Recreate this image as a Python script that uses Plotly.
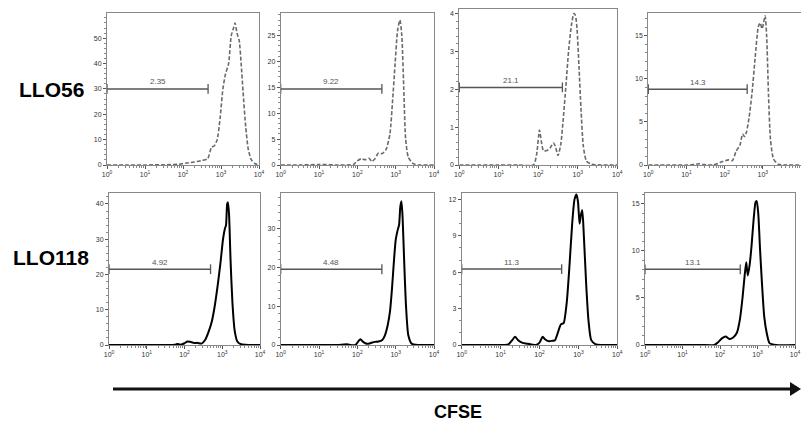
import plotly.graph_objects as go

# ---------------- data ----------------
# x positions in log10(CFSE) units, y = event counts
P1_LX = [0,0.5,1.0,1.5,1.9,2.1,2.3,2.5,2.65,2.75,2.82,2.9,2.98,3.05,3.12,3.2,3.27,3.33,3.37,3.42,3.48,3.53,3.58,3.65,3.72,3.8,3.9,4.0]
P1_Y  = [0,0,0,0.1,0.3,0.8,1.2,1.8,2.5,7,7.5,10,19,30,36,40,51,54,56,52,49,40,29,15,6,2,0.5,0]

P2_LX = [0,0.5,1.0,1.5,1.9,2.0,2.1,2.2,2.3,2.38,2.46,2.55,2.65,2.75,2.85,2.92,2.98,3.05,3.11,3.16,3.21,3.26,3.33,3.45,3.6,4.0]
P2_Y  = [0,0,0.1,0,0.1,0.8,1.2,1.0,1.3,0.7,1.2,2.3,2.2,3.0,6,12.5,19,26,28,25,15,5,1.5,0.3,0,0]

P3_LX = [0,0.5,1.0,1.5,1.88,1.96,2.03,2.08,2.13,2.22,2.3,2.38,2.43,2.5,2.57,2.63,2.7,2.77,2.84,2.9,2.94,2.98,3.03,3.08,3.14,3.22,3.35,3.6,4.0]
P3_Y  = [0,0,0,0,0,0.3,0.92,0.6,0.38,0.38,0.45,0.58,0.5,0.25,0.55,1.2,2.1,3.05,3.7,4.0,3.95,3.6,2.6,1.5,0.5,0.1,0.02,0,0]

P4_LX = [0,0.5,1.0,1.2,1.33,1.45,1.7,1.95,2.1,2.2,2.3,2.4,2.47,2.52,2.57,2.64,2.72,2.8,2.88,2.93,2.98,3.02,3.06,3.1,3.15,3.2,3.28,3.4,3.6,4.0]
P4_Y  = [0,0,0,0.05,0.15,0.05,0,0.4,0.6,0.5,1.6,2.3,3.6,3.3,3.8,5.5,8.5,12.5,16,16.5,15.8,16.5,17.3,15,8,3,0.7,0.1,0,0]

P5_LX = [0,0.5,1.0,1.5,1.75,1.8,1.9,2.0,2.08,2.15,2.25,2.35,2.45,2.55,2.63,2.72,2.8,2.88,2.95,3.02,3.07,3.1,3.13,3.15,3.18,3.22,3.27,3.33,3.4,3.5,3.7,4.0]
P5_Y  = [0,0,0,0,0.1,0.3,0.1,0.5,1.0,0.9,0.6,0.6,0.4,1.5,3.5,6.5,11,17,23,30,33,34,40,40.5,37,24,12,4,1,0.2,0,0]

P6_LX = [0,0.5,1.0,1.5,1.65,1.7,1.8,1.95,2.03,2.08,2.15,2.25,2.35,2.45,2.55,2.65,2.72,2.79,2.85,2.9,2.95,3.0,3.05,3.09,3.12,3.15,3.18,3.22,3.27,3.33,3.42,3.6,4.0]
P6_Y  = [0,0,0,0,0.1,0.2,0.05,0,1.0,1.5,0.8,0.3,0.5,0.8,0.9,1.3,2.5,5,8.5,14,21,27,29.5,31,35.5,37,33,22,10,2.5,0.3,0,0]

P7_LX = [0,0.5,1.0,1.2,1.3,1.37,1.45,1.55,1.7,1.9,2.0,2.08,2.15,2.25,2.33,2.4,2.47,2.55,2.62,2.7,2.77,2.84,2.9,2.95,2.99,3.03,3.07,3.1,3.14,3.2,3.26,3.33,3.45,3.6,4.0]
P7_Y  = [0,0,0,0.05,0.4,0.68,0.4,0.2,0.1,0,0.2,0.68,0.45,0.3,0.35,0.4,1.0,1.7,1.8,3.5,6.5,10,12,12.4,11.8,10,10.8,11.1,9,5,2,0.4,0.05,0,0]

P8_LX = [0,0.5,1.0,1.5,1.85,1.95,2.05,2.15,2.25,2.35,2.45,2.53,2.6,2.66,2.7,2.74,2.79,2.84,2.9,2.95,2.98,3.02,3.07,3.12,3.18,3.25,3.32,3.5,4.0]
P8_Y  = [0,0,0,0,0,0.3,0.7,0.9,0.65,0.8,1.3,2.7,5,7.5,8.8,7.4,8.5,10.5,13.5,15.2,15.3,14,10,6.5,3,1.2,0.2,0,0]

CURVES_LX = [P1_LX, P2_LX, P3_LX, P4_LX, P5_LX, P6_LX, P7_LX, P8_LX]
CURVES_Y = [P1_Y, P2_Y, P3_Y, P4_Y, P5_Y, P6_Y, P7_Y, P8_Y]

# gate: height, end position (log10), percentage label
GATE_Y = [30, 14.7, 2.05, 8.8, 21.5, 19.5, 6.26, 8.05]
GATE_END_LX = [2.66, 2.64, 2.61, 2.59, 2.69, 2.64, 2.57, 2.54]
GATE_LABELS = ["2.35", "9.22", "21.1", "14.3", "4.92", "4.48", "11.3", "13.1"]

Y_MAX = [59.8, 29.3, 4.12, 17.67, 43.2, 39.2, 12.55, 16.2]
Y_DTICK = [10, 5, 1, 5, 10, 10, 3, 5]
Y_MINOR = [2, 1, 0.2, 1, 2, 2, 1, 1]

ROW_LABELS = ["LLO56", "LLO118"]
X_TICKVALS = [1, 10, 100, 1000, 10000]
X_TICKTEXT = ["10<sup>0</sup>", "10<sup>1</sup>", "10<sup>2</sup>", "10<sup>3</sup>", "10<sup>4</sup>"]
AXIS_TITLE = "CFSE"

# ---------------- layout geometry (pixels) ----------------
W, H = 801, 421
BOXES = [  # x0, x1, ytop, ybottom
    (107, 259, 13.3, 165), (280.7, 434, 13.3, 165), (459.3, 617.3, 9, 165), (648.3, 801, 12.7, 165),
    (109, 260, 192.7, 345), (280.7, 434, 192.7, 345), (461.7, 617.3, 192.7, 345), (645, 795, 192.7, 345),
]

fig = go.Figure()
FONT = "Liberation Sans, Arial, sans-serif"

for i in range(8):
    n = i + 1
    xa = "x" if n == 1 else f"x{n}"
    ya = "y" if n == 1 else f"y{n}"
    top_row = i < 4
    xs = [10 ** v for v in CURVES_LX[i]]
    fig.add_trace(go.Scatter(
        x=xs, y=CURVES_Y[i], mode="lines", xaxis=xa, yaxis=ya,
        line=dict(color="#6a6a6a" if top_row else "#000000", width=1.6 if top_row else 2.0,
                  dash="4px,2px" if top_row else "solid", shape="spline", smoothing=0.6),
        showlegend=False, hoverinfo="skip"))
    # gate
    gx = [1, 10 ** GATE_END_LX[i]]
    gy = [GATE_Y[i], GATE_Y[i]]
    fig.add_trace(go.Scatter(
        x=gx, y=gy, mode="lines+markers", xaxis=xa, yaxis=ya,
        line=dict(color="#555555", width=1.5),
        marker=dict(symbol="line-ns-open", size=7, line=dict(color="#555555", width=1.3)),
        showlegend=False, hoverinfo="skip", cliponaxis=False))
    fig.add_annotation(x=GATE_END_LX[i] / 2, y=GATE_Y[i], xref=xa, yref=ya,
                       text=GATE_LABELS[i], showarrow=False, yshift=7,
                       xanchor="center", yanchor="middle",
                       font=dict(family=FONT, size=8, color="#555555"))

    x0, x1, yt, yb = BOXES[i]
    xkey = "xaxis" if n == 1 else f"xaxis{n}"
    ykey = "yaxis" if n == 1 else f"yaxis{n}"
    fig.layout[xkey] = dict(
        type="log", range=[0, 4], domain=[x0 / W, x1 / W], anchor=ya,
        tickmode="array", tickvals=X_TICKVALS, ticktext=X_TICKTEXT,
        ticks="outside", ticklen=3, tickcolor="#555", tickwidth=1,
        showline=True, linecolor="#888888", linewidth=1, mirror=True,
        showgrid=False, zeroline=False, automargin=False,
        tickfont=dict(family=FONT, size=7, color="#333"),
        minor=dict(ticks="outside", ticklen=2, tickcolor="#888", dtick="D1", showgrid=False),
    )
    fig.layout[ykey] = dict(
        range=[0, Y_MAX[i]], domain=[1 - yb / H, 1 - yt / H], anchor=xa,
        dtick=Y_DTICK[i], ticks="outside", ticklen=3, tickcolor="#555", tickwidth=1,
        showline=True, linecolor="#888888", linewidth=1, mirror=True,
        showgrid=False, zeroline=False, automargin=False,
        tickfont=dict(family=FONT, size=7, color="#333"),
        minor=dict(ticks="outside", ticklen=2, tickcolor="#888", dtick=Y_MINOR[i], showgrid=False),
    )

# row labels
fig.add_annotation(x=51.5 / W, y=1 - 89 / H, xref="paper", yref="paper", text=f"<b>{ROW_LABELS[0]}</b>",
                   showarrow=False, xanchor="center", yanchor="middle",
                   font=dict(family=FONT, size=21, color="#000"))
fig.add_annotation(x=50.5 / W, y=1 - 257 / H, xref="paper", yref="paper", text=f"<b>{ROW_LABELS[1]}</b>",
                   showarrow=False, xanchor="center", yanchor="middle",
                   font=dict(family=FONT, size=21, color="#000"))

# CFSE arrow
fig.add_shape(type="line", xref="paper", yref="paper", x0=113 / W, x1=792 / W,
              y0=1 - 389 / H, y1=1 - 389 / H, line=dict(color="#111", width=3))
fig.add_shape(type="path", xref="paper", yref="paper",
              path=f"M {790 / W} {1 - 382 / H} L {801 / W} {1 - 389 / H} L {790 / W} {1 - 396 / H} Z",
              fillcolor="#111", line=dict(color="#111", width=0))
fig.add_annotation(x=457.7 / W, y=1 - 411.5 / H, xref="paper", yref="paper", text=f"<b>{AXIS_TITLE}</b>",
                   showarrow=False, xanchor="center", yanchor="middle",
                   font=dict(family=FONT, size=18, color="#000"))

fig.update_layout(width=W, height=H, margin=dict(l=0, r=0, t=0, b=0, autoexpand=False),
                  paper_bgcolor="white", plot_bgcolor="white")

fig.write_html("out.html", config={"displayModeBar": False},
               post_script="document.body.style.margin='0';document.body.style.overflow='hidden';")
